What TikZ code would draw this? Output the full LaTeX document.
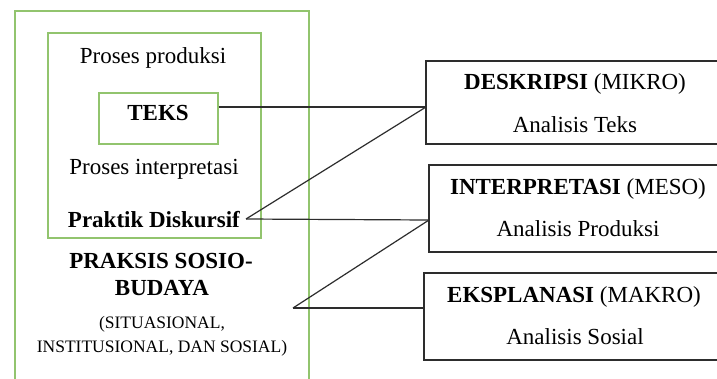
\documentclass[tikz,border=0pt]{standalone}
\usepackage{fontspec}
\setmainfont{Liberation Serif}
\definecolor{frgreen}{RGB}{146,196,110}
\definecolor{lnc}{RGB}{45,45,45}
\begin{document}
\begin{tikzpicture}[x=1pt,y=-1pt,
  gbox/.style={draw=frgreen,line width=1.4pt,inner sep=0pt},
  kbox/.style={draw=lnc,line width=1.5pt,inner sep=0pt},
  txt/.style={inner sep=0pt,text height=15pt,text depth=0pt,font=\fontsize{23}{27}\selectfont},
  stxt/.style={inner sep=0pt,text height=12pt,text depth=0pt,font=\fontsize{17.5}{21}\selectfont},
  conn/.style={draw=lnc,line width=1.2pt}]
\useasboundingbox (0,0) rectangle (717,378);
\clip (0,0) rectangle (717,378);
\fill[white] (0,0) rectangle (717,378);
% green frames
\node[gbox,minimum width=294pt,minimum height=390pt] (outer) at (162,206) {};
\node[gbox,minimum width=213pt,minimum height=205pt] (inner) at (154.5,135.5) {};
\node[gbox,minimum width=119pt,minimum height=51pt] (teks) at (158.5,118.5) {};
% left texts
\node[txt] (pprod) at (153,56) {Proses produksi};
\node[txt] (tteks) at (158,113) {\textbf{TEKS}};
\node[txt] (pint) at (154,167) {Proses interpretasi};
\node[txt] (prak) at (154,220) {\textbf{Praktik Diskursif}};
\node[txt] (ps1) at (161,261) {\textbf{PRAKSIS SOSIO-}};
\node[txt] (ps2) at (162,288) {\textbf{BUDAYA}};
\node[stxt] (sit1) at (162,322) {(SITUASIONAL,};
\node[stxt] (sit2) at (162,346) {INSTITUSIONAL, DAN SOSIAL)};
% right boxes
\node[kbox,minimum width=320pt,minimum height=83pt] (desk) at (586,102.5) {};
\node[kbox,minimum width=320pt,minimum height=87pt] (intp) at (589,208.5) {};
\node[kbox,minimum width=320pt,minimum height=87pt] (eksp) at (584,316.5) {};
\node[txt] (t1a) at (575,82) {\textbf{DESKRIPSI} (MIKRO)};
\node[txt] (t1b) at (575,125) {Analisis Teks};
\node[txt] (t2a) at (578,187) {\textbf{INTERPRETASI} (MESO)};
\node[txt] (t2b) at (578,229) {Analisis Produksi};
\node[txt] (t3a) at (574,295) {\textbf{EKSPLANASI} (MAKRO)};
\node[txt] (t3b) at (575,337) {Analisis Sosial};
% connector points
\coordinate (dIn) at (426,107);
\coordinate (pd) at (246,219);
\coordinate (iIn) at (429,220);
\coordinate (sP) at (293,308);
\coordinate (eIn) at (424,308);
\draw[conn] (teks.east |- dIn) -- (dIn);
\draw[conn] (pd) -- (dIn);
\draw[conn] (pd) -- (iIn);
\draw[conn] (sP) -- (iIn);
\draw[conn] (sP) -- (eIn);
\end{tikzpicture}
\end{document}
